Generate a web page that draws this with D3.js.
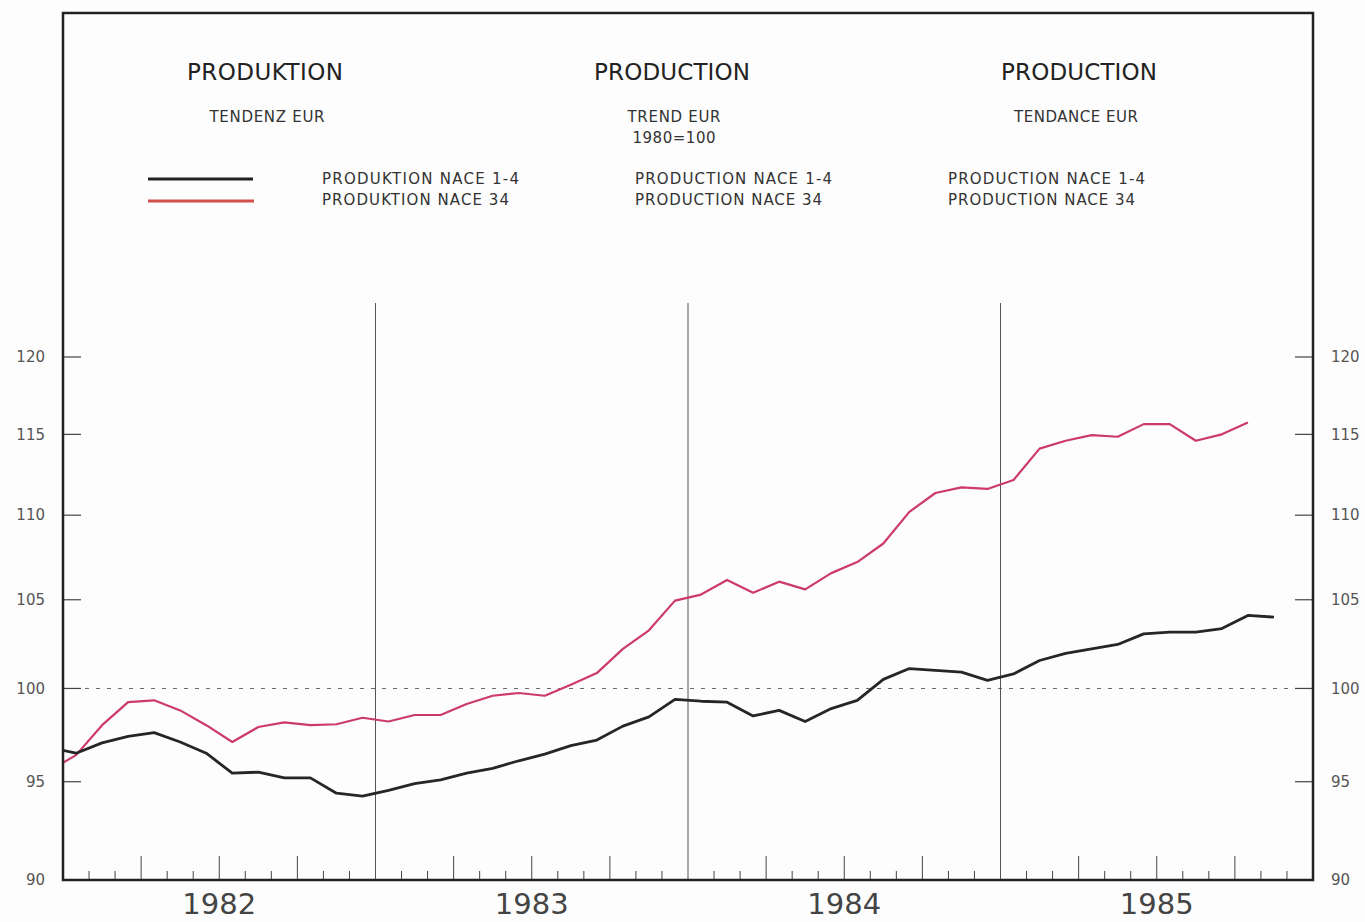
<!DOCTYPE html>
<html><head><meta charset="utf-8">
<script src="https://cdn.jsdelivr.net/npm/d3@7"></script>
<style>
html,body{margin:0;padding:0;background:#fdfdfd;}
svg{display:block;}
text{font-family:"DejaVu Sans","Liberation Sans",sans-serif;}
</style></head>
<body>
<svg id="c" width="1365" height="922"></svg>
<script>
// ---- data ----
const months = ["1981-12",
 "1982-01","1982-02","1982-03","1982-04","1982-05","1982-06","1982-07","1982-08","1982-09","1982-10","1982-11","1982-12",
 "1983-01","1983-02","1983-03","1983-04","1983-05","1983-06","1983-07","1983-08","1983-09","1983-10","1983-11","1983-12",
 "1984-01","1984-02","1984-03","1984-04","1984-05","1984-06","1984-07","1984-08","1984-09","1984-10","1984-11","1984-12",
 "1985-01","1985-02","1985-03","1985-04","1985-05","1985-06","1985-07","1985-08","1985-09","1985-10","1985-11"];
const nace14 = [96.8,
 96.5,97.05,97.4,97.6,97.1,96.5,95.45,95.5,95.2,95.2,94.4,94.25,
 94.55,94.9,95.1,95.45,95.7,96.1,96.45,96.9,97.2,97.95,98.45,99.4,
 99.3,99.25,98.5,98.8,98.2,98.9,99.35,100.5,101.1,101.0,100.9,100.45,
 100.8,101.55,101.95,102.2,102.45,103.05,103.15,103.15,103.35,104.1,104.0];
const nace34 = [95.6,
 96.4,98.0,99.25,99.35,98.8,98.0,97.1,97.9,98.15,98.0,98.05,98.4,
 98.2,98.55,98.55,99.15,99.6,99.75,99.6,100.2,100.85,102.2,103.25,104.95,
 105.3,106.15,105.4,106.05,105.6,106.55,107.2,108.3,110.2,111.35,111.7,111.6,
 112.15,114.1,114.6,114.95,114.85,115.65,115.65,114.6,115.0,115.75];
const years = ["1982","1983","1984","1985"];
const yTicks = [90,95,100,105,110,115,120];
const titles = ["PRODUKTION","PRODUCTION","PRODUCTION"];
const subtitles = [["TENDENZ EUR"],["TREND EUR","1980=100"],["TENDANCE EUR"]];
const legend14 = ["PRODUKTION NACE 1-4","PRODUCTION NACE 1-4","PRODUCTION NACE 1-4"];
const legend34 = ["PRODUKTION NACE 34","PRODUCTION NACE 34","PRODUCTION NACE 34"];

// ---- layout ----
const svg = d3.select("#c");
const L = 63, R = 1313, T = 13, B = 880;
const x = d3.scaleLinear().domain([0, 48]).range([L, R]);   // month index from Jan 1982
const y = d3.scaleLog().domain([90, 120]).range([B, 357]);
const xi = i => x(i - 1 + 0.5);   // index into months array (months[0] = Dec 1981)

svg.append("rect").attr("x",0).attr("y",0).attr("width",1365).attr("height",922).attr("fill","#fdfdfd");

svg.append("clipPath").attr("id","pc").append("rect")
  .attr("x",L).attr("y",T).attr("width",R-L).attr("height",B-T);

// 100 reference dashed line
svg.append("line").attr("x1",L).attr("x2",R).attr("y1",y(100)).attr("y2",y(100))
  .attr("stroke","#666").attr("stroke-width",1).attr("stroke-dasharray","4,7");

// year boundary lines
[12,24,36].forEach(m=>{
  svg.append("line").attr("x1",x(m)).attr("x2",x(m)).attr("y1",303).attr("y2",B)
    .attr("stroke","#555").attr("stroke-width",1);
});

// month ticks
d3.range(1,48).filter(m=>m%12!==0).forEach(m=>{
  const len = (m%3===0) ? 24 : 9;
  svg.append("line").attr("x1",x(m)).attr("x2",x(m)).attr("y1",B).attr("y2",B-len)
    .attr("stroke","#444").attr("stroke-width",1);
});

// y ticks (inside, both sides)
yTicks.filter(v=>v>90).forEach(v=>{
  svg.append("line").attr("x1",L).attr("x2",L+18).attr("y1",y(v)).attr("y2",y(v)).attr("stroke","#444").attr("stroke-width",1.2);
  svg.append("line").attr("x1",R-18).attr("x2",R).attr("y1",y(v)).attr("y2",y(v)).attr("stroke","#444").attr("stroke-width",1.2);
});
yTicks.forEach(v=>{
  svg.append("text").attr("x",45).attr("y",y(v)).attr("dy","0.35em").attr("text-anchor","end")
    .attr("font-size",15).attr("fill","#555").text(v);
  svg.append("text").attr("x",1331).attr("y",y(v)).attr("dy","0.35em").attr("text-anchor","start")
    .attr("font-size",15).attr("fill","#555").text(v);
});

// year labels
years.forEach((yr,k)=>{
  svg.append("text").attr("x",x(6+12*k)).attr("y",914).attr("text-anchor","middle")
    .attr("font-size",29).attr("fill","#444").text(yr);
});

// lines
const line = d3.line().x((d,i)=>xi(i)).y(d=>y(d));
const g = svg.append("g").attr("clip-path","url(#pc)");
g.append("path").datum(nace34).attr("d",line).attr("fill","none")
  .attr("stroke","#cc3a6c").attr("stroke-width",2.2).attr("stroke-linejoin","round");
g.append("path").datum(nace14).attr("d",line).attr("fill","none")
  .attr("stroke","#262626").attr("stroke-width",2.8).attr("stroke-linejoin","round");

// frame
svg.append("rect").attr("x",L).attr("y",T).attr("width",R-L).attr("height",B-T)
  .attr("fill","none").attr("stroke","#222").attr("stroke-width",2.5);

// titles
const tcx = [265, 672, 1079];
titles.forEach((t,k)=>{
  svg.append("text").attr("x",tcx[k]).attr("y",80).attr("text-anchor","middle")
    .attr("font-size",23).attr("fill","#222").attr("textLength",156).attr("lengthAdjust","spacing").text(t);
});
const subX = [[267],[674,674],[1076]];
const subW = [[115],[93,83],[124]];
subtitles.forEach((arr,k)=>{
  arr.forEach((s,j)=>{
    svg.append("text").attr("x",subX[k][j]).attr("y",122+j*21).attr("text-anchor","middle")
      .attr("font-size",15).attr("fill","#333").attr("textLength",subW[k][j]).attr("lengthAdjust","spacing").text(s);
  });
});

// legend
svg.append("line").attr("x1",148).attr("x2",253).attr("y1",179).attr("y2",179).attr("stroke","#222").attr("stroke-width",2.8);
svg.append("line").attr("x1",148).attr("x2",254).attr("y1",201).attr("y2",201).attr("stroke","#d2504c").attr("stroke-width",3.2);
const lx = [322, 635, 948];
legend14.forEach((s,k)=>{
  svg.append("text").attr("x",lx[k]).attr("y",184).attr("font-size",15).attr("fill","#333")
    .attr("textLength",197).attr("lengthAdjust","spacing").text(s);
});
legend34.forEach((s,k)=>{
  svg.append("text").attr("x",lx[k]).attr("y",205).attr("font-size",15).attr("fill","#333")
    .attr("textLength",187).attr("lengthAdjust","spacing").text(s);
});
</script>
</body></html>
